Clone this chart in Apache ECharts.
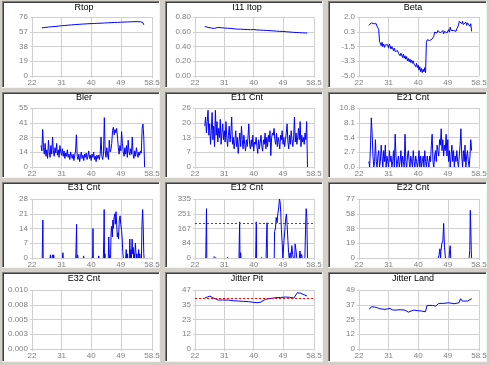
<!DOCTYPE html>
<html><head><meta charset="utf-8">
<script src="https://cdn.jsdelivr.net/npm/echarts@6/dist/echarts.min.js"></script>
<style>html,body{margin:0;padding:0;background:#d4d0c8}#c{width:490px;height:365px}</style>
</head><body><div id="c"></div>
<script>
// ---- data ----
const X_TICKS = [22, 31, 40, 49, 58.5];
const X_LABELS = ['22', '31', '40', '49', '58.5'];
const TITLES = ['Rtop', 'I11 Itop', 'Beta', 'Bler', 'E11 Cnt', 'E21 Cnt', 'E31 Cnt', 'E12 Cnt', 'E22 Cnt', 'E32 Cnt', 'Jitter Pit', 'Jitter Land'];

const rtopTicks = [0, 19, 38, 57, 76], rtopLabels = ['0', '19', '38', '57', '76'];
const i11Ticks = [0, 0.2, 0.4, 0.6, 0.8], i11Labels = ['0.00', '0.20', '0.40', '0.60', '0.80'];
const betaTicks = [-5, -3.25, -1.5, 0.25, 2], betaLabels = ['-5.0', '-3.3', '-1.5', '0.3', '2.0'];
const blerTicks = [0, 13.75, 27.5, 41.25, 55], blerLabels = ['0', '14', '28', '41', '55'];
const e11Ticks = [0, 6.5, 13, 19.5, 26], e11Labels = ['0', '7', '13', '20', '26'];
const e21Ticks = [0, 2.7, 5.4, 8.1, 10.8], e21Labels = ['0.0', '2.7', '5.4', '8.1', '10.8'];
const e31Ticks = [0, 7, 14, 21, 28], e31Labels = ['0', '7', '14', '21', '28'];
const e12Ticks = [0, 83.7, 167.4, 251.1, 334.8], e12Labels = ['0', '84', '167', '251', '335'];
const e22Ticks = [0, 19.2, 38.4, 57.6, 76.8], e22Labels = ['0', '19', '38', '58', '77'];
const e32Ticks = [0, 0.0025, 0.005, 0.0075, 0.01], e32Labels = ['0.000', '0.003', '0.005', '0.008', '0.010'];
const jpTicks = [0, 11.7, 23.4, 35.1, 46.8], jpLabels = ['0', '12', '23', '35', '47'];
const jlTicks = [0, 12.25, 24.5, 36.75, 49], jlLabels = ['0', '12', '25', '37', '49'];

const rtop = [[25.0,62],[26,62.5],[27,63],[28,63.5],[29,63.8],[30,64.2],[31,64.8],[32,65],[33,65.5],[34,65.8],[35,66.2],[36,66.5],[37,66.8],[38,67],[39,67.3],[40,67.5],[41,67.6],[42,67.9],[43,68],[44,68.3],[45,68.5],[46,68.7],[47,69],[48,69],[49,69.3],[50,69.5],[51,69.6],[52,69.8],[53,70],[54,70],[55,69.8],[55.7,69],[56,66]];
const i11 = [[25.0,0.67],[25.5,0.665],[26,0.66],[26.5,0.655],[27,0.65],[27.5,0.645],[28,0.645],[28.3,0.66],[29,0.66],[30,0.655],[31,0.65],[32,0.648],[33,0.645],[34,0.64],[35,0.635],[36,0.635],[37,0.632],[38,0.63],[39,0.628],[40,0.63],[41,0.625],[42,0.622],[43,0.62],[44,0.618],[45,0.615],[46,0.612],[47,0.608],[48,0.605],[49,0.605],[50,0.6],[51,0.597],[52,0.593],[53,0.59],[54,0.588],[55,0.585],[56,0.583],[56.4,0.583]];

// dense series: start x, step 0.25
const betaX0 = 25.0;
const beta = [
 1.0,1.2,0.9,1.3, 1.1,1.4,1.2,1.3, 1.0,1.2,0.9,0.8,
 0.5,-0.9,-1.1,-1.4, -1.0,-1.5,-1.2,-1.6, -1.3,-1.1,-1.5,-1.3,
 -1.7,-1.2,-1.4,-1.8, -1.5,-1.6,-2.0,-1.7, -2.1,-1.9,-2.2,-2.0,
 -2.3,-2.1,-2.6,-2.3, -2.5,-2.8,-2.4,-2.9, -2.6,-3.0,-2.7,-3.2,
 -2.9,-3.3,-3.0,-3.4, -3.1,-3.5,-3.2,-3.6, -3.4,-3.9,-3.5,-4.0,
 -3.7,-4.3,-3.9,-4.5, -4.1,-4.6,-4.2,-4.5, -4.0,-4.6,-1.0,-0.7,
 -0.9,-0.6,-0.8,-0.7, -0.9,-0.6,-0.8,-0.3, 0.2,0.0,0.3,0.1,
 0.4,0.2,0.5,0.1, 0.3,0.2,0.4,0.0, 0.3,0.2,0.4,0.1,
 0.3,0.5,0.2,0.8, 0.4,0.6,0.2,0.4, 0.3,0.5,0.3,0.6,
 0.4,1.0,1.5,1.3, 1.4,1.2,1.5,1.1, 1.3,1.2,1.4,1.0,
 1.3,1.1,1.4,0.9, 1.2,0.3];

const blerX0 = 24.75;
const bler = [20,
 15,35,18,12, 22,10,16,8, 25,14,9,20, 12,28,15,10, 18,13,22,11,
 16,9,20,14, 11,17,10,15, 8,13,10,16, 9,12,7,14, 10,8,12,6,
 11,15,30,10, 7,12,5,10, 14,8,11,6, 12,9,13,7, 10,15,8,11,
 6,12,9,14, 7,10,5,11, 8,11,7,13, 28,10,7,12, 46,15,9,18,
 11,7,25,14, 16,22,34,37, 30,35,32,36, 28,18,12,20, 15,33,22,14,
 10,18,12,20, 9,25,14,11, 17,12,28,12, 8,15,10,18, 12,9,14,11,
 15,13,36,40, 28,0];

const e11X0 = 25.0;
const e11 = [
 18,22,15,20, 25,14,19,10, 16,24,12,18, 9,25,14,20, 11,17,13,21,
 10,15,19,12, 16,11,20,13, 9,14,18,11, 15,22,10,13, 8,12,16,9,
 13,6,11,15, 9,18,12,8, 14,10,7,12, 9,13,19,10, 8,12,9,14,
 7,11,10,13, 9,6,12,8, 11,14,9,7, 12,10,15,8, 13,9,14,11,
 16,5,13,15, 14,17,12,10, 15,9,13,11, 8,14,12,16, 10,13,9,12,
 15,19,11,8, 14,10,16,12, 9,13,22,11, 15,10,13,17, 12,20,9,14,
 11,13,10,15, 12,20,0];

const e21X0 = 25.0;
const e21 = [
 1,0,4,9, 6,2,0,1, 5,1,0,2, 3,0,1,4, 2,0,3,1,
 4,0,2,1, 0,3,1,2, 0,1,3,0, 6,2,0,1, 2,0,1,3,
 0,2,1,0, 6,1,0,2, 3,1,0,2, 1,0,3,1, 0,2,1,0,
 1,3,0,2, 0,1,2,0, 3,1,0,2, 1,0,2,1, 4,6,1,0,
 2,3,1,4, 3,2,5,4, 7,3,5,2, 4,3,6,2, 5,1,3,0,
 2,4,1,3, 0,2,1,3, 1,0,2,4, 7,2,0,3, 1,4,0,2,
 3,1,0,2, 5,3];

// sparse spike series, null = gap
const e31 = [[25.1,0],[25.2,9],[25.3,18],[25.4,0],null,
 [27.5,0],[27.6,1.5],[27.7,0],null,[28.1,0],[28.3,1.5],[28.5,0],[28.6,1.5],[28.7,0],null,
 [31.3,0],[31.4,2.5],[31.5,0],null,
 [35.3,0],[35.45,8],[35.55,16],[35.65,0],[35.9,1.5],[36.0,0],null,
 [37.6,0],[37.7,1],[37.8,0],null,
 [40.3,0],[40.45,1],[40.55,14],[40.65,0],null,
 [42.2,0],[42.3,1],[42.4,0],null,
 [43.7,0],[43.85,10],[43.95,23],[44.05,0],[44.2,2],[44.3,0],null,
 [45.2,0],[45.35,10],[45.5,2],[45.6,0],null,
 [45.9,0],[46.05,12],[46.2,15],[46.45,10],[46.6,18],[46.75,14],[46.95,19],[47.2,21],[47.35,16],[47.55,22],[47.75,16],[47.95,10],[48.15,12],[48.3,9],[48.55,18],[48.8,20],[49.0,16],[49.25,13],[49.45,9],[49.6,3],[49.8,0],null,
 [50.5,0],[50.65,4],[50.8,0],[51.0,2],[51.1,0],null,
 [51.6,0],[51.75,9],[51.9,0],[52.1,4],[52.25,0],[52.45,9],[52.6,2],[52.8,5],[52.95,0],[53.1,2],[53.2,0],[53.45,7],[53.6,3],[53.75,0],[53.9,2],[54.0,0],null,
 [54.3,0],[54.45,4],[54.6,0],[54.8,2],[54.9,0],null,
 [55.3,0],[55.45,16],[55.65,23],[55.85,14],[56.0,2],[56.1,0]];

const e12 = [[25.3,0],[25.42,140],[25.52,280],[25.62,0],null,
 [27.8,0],[27.9,10],[28.0,0],null,[28.3,0],[28.4,5],[28.5,0],null,
 [31.9,0],[32.0,6],[32.1,0],null,
 [35.5,0],[35.6,120],[35.7,205],[35.8,0],[36.0,30],[36.1,0],null,
 [40.6,0],[40.7,100],[40.8,205],[40.9,0],null,
 [42.4,0],[42.5,5],[42.6,0],null,
 [43.8,0],[43.95,110],[44.1,200],[44.2,0],null,
 [46.3,0],[46.4,150],[46.7,170],[46.9,230],[47.2,200],[47.4,250],[47.7,290],[47.9,335],[48.1,320],[48.3,260],[48.5,160],[48.75,80],[48.95,0],[49.3,100],[49.65,180],[49.85,230],[50.05,250],[50.25,190],[50.5,100],[50.7,30],[50.9,0],[51.2,30],[51.45,0],[51.7,70],[51.95,20],[52.15,0],null,
 [52.6,0],[52.7,80],[53.0,40],[53.2,0],null,
 [54.0,0],[54.2,40],[54.45,0],[54.7,20],[54.9,0],null,
 [55.7,0],[55.9,160],[56.1,280],[56.3,230],[56.5,0]];

const e22 = [[46.1,0],[46.3,3],[46.6,12],[46.8,0],[46.9,8],[47.2,19],[47.5,22],[47.75,45],[48.0,14],[48.3,0],null,
 [49.4,0],[49.55,10],[49.75,16],[49.9,0],null,
 [55.5,0],[55.7,10],[55.85,62],[56.0,40],[56.15,10],[56.25,0]];

const jitterPit = [[25.1,40.7],[25.8,41.2],[26.6,42.0],[27.3,40.8],[28.2,39.9],[29.2,38.8],[30.5,38.9],[32.3,38.8],[33.8,38.3],[35.4,38.0],[36.9,37.8],[38.4,37.5],[39.5,37.2],[41.0,36.7],[42.0,37.0],[42.5,37.4],[43.6,39.4],[44.6,39.9],[45.6,40.2],[46.7,40.7],[48.2,40.9],[49.8,41.2],[51.0,41.0],[52.3,40.4],[52.8,40.0],[53.4,44.7],[54.4,44.2],[55.4,43.1],[56.4,42.0]];
const jitterLand = [[25.1,32.9],[25.8,35.1],[26.8,34.8],[27.6,34.2],[28.4,33.4],[29.9,32.9],[31.4,33.7],[32.2,32.5],[32.9,32.3],[34.5,32.6],[36.0,32.3],[37.0,30.6],[37.6,32.0],[38.6,32.3],[40.0,31.8],[41.1,31.5],[42.2,30.9],[42.7,36.2],[44.3,36.2],[45.3,35.6],[46.3,37.9],[47.8,37.9],[49.3,38.4],[50.9,37.6],[52.4,38.4],[52.9,41.8],[53.4,39.8],[55.0,39.8],[56.3,41.8]];

const e12Limit = 200;
const jitterPitLimit = 40.5;

// ---- build ----
const STEP = 0.25;
function dense(x0, vals) { return vals.map((v, k) => [x0 + k * STEP, v]); }
function gaps(arr) { return arr.map(p => p === null ? ['-', '-'] : p); }

const panels = [
  { ticks: rtopTicks, labels: rtopLabels, data: rtop },
  { ticks: i11Ticks, labels: i11Labels, data: i11 },
  { ticks: betaTicks, labels: betaLabels, data: dense(betaX0, beta) },
  { ticks: blerTicks, labels: blerLabels, data: dense(blerX0, bler) },
  { ticks: e11Ticks, labels: e11Labels, data: dense(e11X0, e11) },
  { ticks: e21Ticks, labels: e21Labels, data: dense(e21X0, e21) },
  { ticks: e31Ticks, labels: e31Labels, data: gaps(e31) },
  { ticks: e12Ticks, labels: e12Labels, data: gaps(e12), limit: e12Limit },
  { ticks: e22Ticks, labels: e22Labels, data: gaps(e22) },
  { ticks: e32Ticks, labels: e32Labels, data: [] },
  { ticks: jpTicks, labels: jpLabels, data: jitterPit, limit: jitterPitLimit },
  { ticks: jlTicks, labels: jlLabels, data: jitterLand }
];

const GRID_LEFT = [32, 195, 359], GRID_W = [120, 119, 120];
const GRID_TOP = [17, 108, 199, 290], GRID_H = 59;
const PANEL_X = [2, 165, 328], PANEL_W = [158, 158, 159];
const PANEL_Y = [1, 92, 182, 272], PANEL_H = [87, 86, 86, 90];
const TITLE_X = [84, 247, 413];
const TITLE_Y = [7.5, 97.5, 188, 279];
const GRIDC = '#d0d0d0', LABC = '#808080';
const FONT = 'Liberation Sans, Arial, sans-serif';

function nearestLabel(ticks, labels, v) {
  let bi = 0, bd = Infinity;
  ticks.forEach((t, i) => { const d = Math.abs(t - v); if (d < bd) { bd = d; bi = i; } });
  return labels[bi];
}

const grid = [], xAxis = [], yAxis = [], series = [], graphic = [];
for (let r = 0; r < 4; r++) {
  const py = PANEL_Y[r], ph = PANEL_H[r];
  for (let c = 0; c < 3; c++) {
    const px = PANEL_X[c], pw = PANEL_W[c];
    graphic.push({ type: 'rect', z: -100, silent: true, shape: { x: px, y: py, width: pw, height: ph }, style: { fill: '#ffffff' } });
    graphic.push({ type: 'rect', z: -99, silent: true, shape: { x: px, y: py, width: pw, height: 1 }, style: { fill: '#808080' } });
    graphic.push({ type: 'rect', z: -99, silent: true, shape: { x: px, y: py, width: 1, height: ph }, style: { fill: '#808080' } });
    graphic.push({ type: 'rect', z: -99, silent: true, shape: { x: px + 1, y: py + 1, width: pw - 2, height: 1 }, style: { fill: '#404040' } });
    graphic.push({ type: 'rect', z: -99, silent: true, shape: { x: px + 1, y: py + 1, width: 1, height: ph - 2 }, style: { fill: '#404040' } });
    graphic.push({ type: 'rect', z: -99, silent: true, shape: { x: px, y: py + ph - 1, width: pw, height: 1 }, style: { fill: '#f4f4f4' } });
    graphic.push({ type: 'rect', z: -99, silent: true, shape: { x: px + pw - 1, y: py, width: 1, height: ph }, style: { fill: '#f4f4f4' } });
  }
}
panels.forEach((p, i) => {
  const r = Math.floor(i / 3), c = i % 3;
  grid.push({ left: GRID_LEFT[c], top: GRID_TOP[r], width: GRID_W[c], height: GRID_H, containLabel: false });
  xAxis.push({
    gridIndex: i, type: 'value', min: X_TICKS[0], max: X_TICKS[X_TICKS.length - 1],
    axisLine: { show: false },
    axisTick: { show: true, length: 2, customValues: X_TICKS, lineStyle: { color: GRIDC } },
    axisLabel: { customValues: X_TICKS, formatter: v => nearestLabel(X_TICKS, X_LABELS, v), fontSize: 8, color: LABC, margin: 3, fontFamily: FONT },
    splitLine: { show: true, lineStyle: { color: GRIDC, width: 1 } }
  });
  yAxis.push({
    gridIndex: i, type: 'value', min: p.ticks[0], max: p.ticks[p.ticks.length - 1],
    axisLine: { show: false },
    axisTick: { show: true, length: 2, customValues: p.ticks, lineStyle: { color: GRIDC } },
    axisLabel: { customValues: p.ticks, formatter: v => nearestLabel(p.ticks, p.labels, v), fontSize: 8, color: LABC, margin: 4, fontFamily: FONT },
    splitLine: { show: true, lineStyle: { color: GRIDC, width: 1 } }
  });
  const s = {
    type: 'line', xAxisIndex: i, yAxisIndex: i, data: p.data, showSymbol: false, symbol: 'none',
    connectNulls: false, lineStyle: { color: '#0000ff', width: 1 }, itemStyle: { color: '#0000ff' },
    animation: false, silent: true
  };
  if (p.limit !== undefined) {
    s.markLine = { silent: true, symbol: 'none', animation: false, label: { show: false },
      lineStyle: { color: '#ff0000', type: [2, 2], width: 1, opacity: 1 }, emphasis: { disabled: true },
      data: [{ yAxis: p.limit, lineStyle: { color: '#ff0000' } }] };
  }
  series.push(s);
  graphic.push({ type: 'text', silent: true, z: 10, x: TITLE_X[c], y: TITLE_Y[r],
    style: { text: TITLES[i], fill: '#000000', font: '9px ' + FONT, align: 'center', verticalAlign: 'middle', textAlign: 'center', textVerticalAlign: 'middle' } });
});

const chart = echarts.init(document.getElementById('c'), null, { renderer: 'canvas' });
chart.setOption({ backgroundColor: '#d4d0c8', animation: false, grid, xAxis, yAxis, series, graphic });
</script>
</body></html>
